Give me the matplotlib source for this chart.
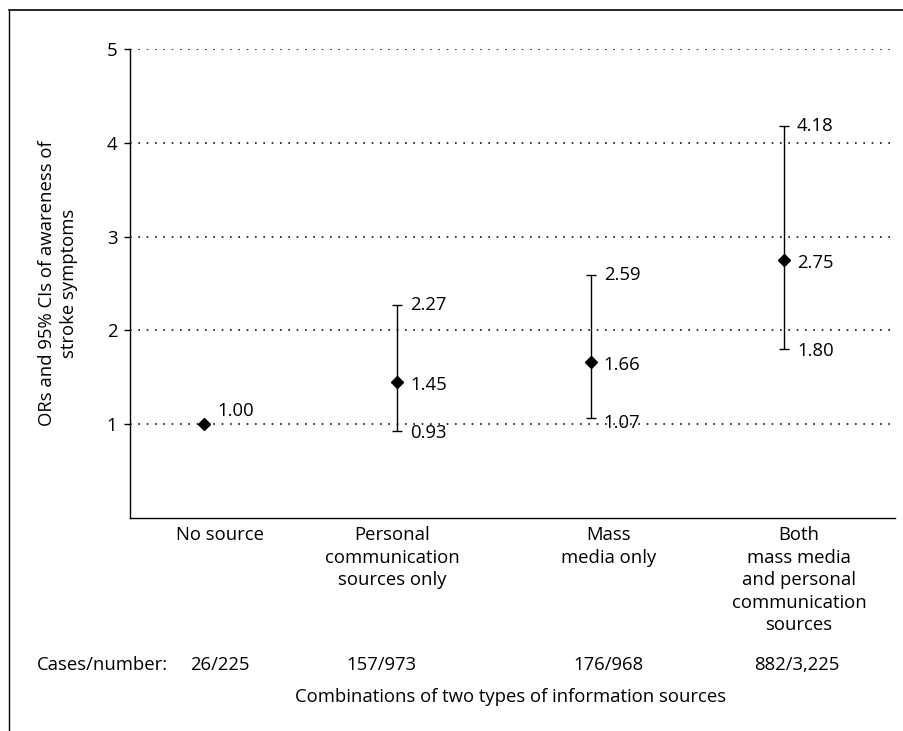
import numpy as np
import matplotlib.pyplot as plt
from matplotlib.lines import Line2D

# ========== DATA ==========
categories = ["No source",
              "Personal\ncommunication\nsources only",
              "Mass\nmedia only",
              "Both\nmass media\nand personal\ncommunication\nsources"]
cases = ["26/225", "157/973", "176/968", "882/3,225"]
odds_ratio = [1.00, 1.45, 1.66, 2.75]
ci_low = [np.nan, 0.93, 1.07, 1.80]
ci_high = [np.nan, 2.27, 2.59, 4.18]
y_ticks = [1, 2, 3, 4, 5]

# ========== STYLE ==========
plt.rcParams['font.family'] = ['Open Sans', 'DejaVu Sans']
FS = 13.3
plt.rcParams['font.size'] = FS
label_dx = [16, -5, 18, 15]     # px shift of category labels
cases_dx = [16, -16, 18, 13]    # px shift of case counts

fig = plt.figure(figsize=(9.04, 7.31), dpi=100)
ax = fig.add_axes([130 / 904, 1 - 518 / 731, (895 - 130) / 904, (518 - 49) / 731])

x = np.arange(len(categories))
ax.set_xlim(-74 / 193.3, 3 + 111 / 193.3)
ax.set_ylim(0, 5)

# dotted grid
for yv in y_ticks:
    ax.axhline(yv, color='#111111', linestyle=(0, (1, 4)), linewidth=1.2, zorder=1)

# error bars + points
yerr = np.array([[o - l if not np.isnan(l) else 0 for o, l in zip(odds_ratio, ci_low)],
                 [h - o if not np.isnan(h) else 0 for o, h in zip(odds_ratio, ci_high)]])
has_ci = ~np.isnan(np.array(ci_low))
ax.errorbar(x[has_ci], np.array(odds_ratio)[has_ci], yerr=yerr[:, has_ci], fmt='none',
            ecolor='black', elinewidth=1.0, capsize=3.6, capthick=1.0, zorder=3)
ax.plot(x, odds_ratio, linestyle='none', marker='D', markersize=6.6,
        color='black', zorder=4)

# value labels
for i, v in enumerate(odds_ratio):
    dy = 13 if i == 0 else -3
    ax.annotate(f"{v:.2f}", xy=(x[i], v), xytext=(13, dy), textcoords='offset pixels',
                ha='left', va='center', fontsize=FS)
for i in range(len(x)):
    if has_ci[i]:
        ax.annotate(f"{ci_high[i]:.2f}", xy=(x[i], ci_high[i]), xytext=(13, 0),
                    textcoords='offset pixels', ha='left', va='center', fontsize=FS)
        ax.annotate(f"{ci_low[i]:.2f}", xy=(x[i], ci_low[i]), xytext=(13, -2 if i != 2 else -5),
                    textcoords='offset pixels', ha='left', va='center', fontsize=FS)

# axes styling
ax.spines['top'].set_visible(False)
ax.spines['right'].set_visible(False)
ax.spines['left'].set_linewidth(1.0)
ax.spines['bottom'].set_linewidth(1.0)
ax.set_yticks(y_ticks)
ax.tick_params(axis='y', length=4, width=1, pad=5, labelsize=FS)
ax.set_xticks([])

# category labels and case counts
for i, lab in enumerate(categories):
    ax.annotate(lab, xy=(x[i], 0), xycoords=('data', 'axes fraction'),
                xytext=(label_dx[i], -8), textcoords='offset pixels',
                ha='center', va='top', fontsize=FS, linespacing=1.33)
    ax.annotate(cases[i], xy=(x[i], 0), xycoords=('data', 'axes fraction'),
                xytext=(cases_dx[i], -147), textcoords='offset pixels',
                ha='center', va='center', fontsize=FS)

fig.text(37 / 904, 1 - 665 / 731, "Cases/number:", ha='left', va='center', fontsize=FS)
fig.text(511 / 904, 1 - 697 / 731, "Combinations of two types of information sources",
         ha='center', va='center', fontsize=FS)
fig.text(58 / 904, 1 - 283 / 731, "ORs and 95% CIs of awareness of\nstroke symptoms",
         rotation=90, ha='center', va='center', fontsize=FS, multialignment='center',
         linespacing=1.33)

# page frame (top and left edges)
fig.add_artist(Line2D([9 / 904, 1], [1 - 10 / 731, 1 - 10 / 731], color='black', linewidth=1.2))
fig.add_artist(Line2D([9 / 904, 9 / 904], [0, 1 - 10 / 731], color='black', linewidth=1.0))

plt.savefig("out.png", dpi=100)
